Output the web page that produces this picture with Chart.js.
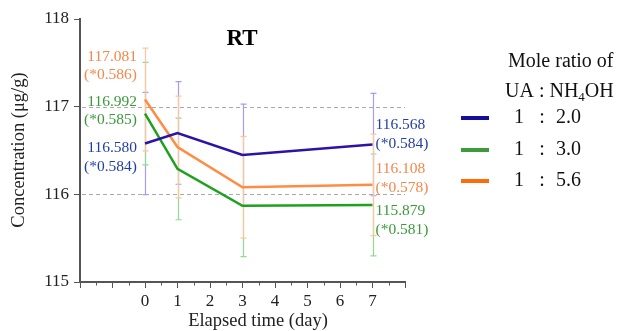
<!DOCTYPE html>
<html>
<head>
<meta charset="utf-8">
<script src="https://cdn.jsdelivr.net/npm/chart.js@4.4.1/dist/chart.umd.min.js"></script>
<style>
  html, body { margin: 0; padding: 0; background: #fff; }
  canvas { display: block; }
</style>
</head>
<body>
<canvas id="chart" width="617" height="331"></canvas>
<script>
// ---- DATA ----
const days = [0, 1, 3, 7];
const seriesNames = ["1 : 2.0", "1 : 3.0", "1 : 5.6"];
const ratio20 = [116.580, 116.70, 116.45, 116.568];
const ratio30 = [116.92, 116.29, 115.87, 115.879];
const ratio56 = [117.081, 116.54, 116.08, 116.108];
const err20 = [0.584, 0.585, 0.58, 0.584];
const err30 = [0.585, 0.58, 0.58, 0.581];
const err56 = [0.586, 0.58, 0.58, 0.578];
const startLabels = [["117.081", "(*0.586)"], ["116.992", "(*0.585)"], ["116.580", "(*0.584)"]];
const endLabels = [["116.568", "(*0.584)"], ["116.108", "(*0.578)"], ["115.879", "(*0.581)"]];
const yTicks = [115, 116, 117, 118];
const dashedAt = [116, 117];

const SERIF = "'Liberation Serif', 'Times New Roman', serif";

// ---- STYLE ----
const lineColors = ["#2c12a8", "#1ea21e", "#ff8c42"];
const errColors = ["#a99cee", "#8fdc8f", "#ffc49c"];
const legendColors = ["#140e9a", "#3c9c3c", "#ff6a0a"];
const textColors = ["#1f3fa3", "#3a9a3a", "#f4874a"];

const toPts = vals => days.map((d, i) => ({ x: d, y: vals[i] }));
const allVals = [ratio20, ratio30, ratio56];
const allErr = [err20, err30, err56];

// ---- EXTRAS PLUGIN ----
const extras = {
  id: "extras",
  beforeDatasetsDraw(chart) {
    const { ctx, scales: { x, y }, chartArea } = chart;
    ctx.save();
    // dashed reference lines
    ctx.strokeStyle = "#aaa";
    ctx.lineWidth = 1;
    ctx.setLineDash([4, 3]);
    dashedAt.forEach(v => {
      const py = Math.round(y.getPixelForValue(v)) + 0.5;
      ctx.beginPath();
      ctx.moveTo(chartArea.left + 2, py);
      ctx.lineTo(chartArea.right, py);
      ctx.stroke();
    });
    ctx.setLineDash([]);
    // error bars
    allVals.forEach((vals, si) => {
      ctx.strokeStyle = errColors[si];
      ctx.lineWidth = 1.2;
      days.forEach((d, i) => {
        const px = Math.round(x.getPixelForValue(d)) + 0.5;
        const top = y.getPixelForValue(vals[i] + allErr[si][i]);
        const bot = y.getPixelForValue(vals[i] - allErr[si][i]);
        ctx.beginPath();
        ctx.moveTo(px, top); ctx.lineTo(px, bot);
        ctx.moveTo(px - 3, top); ctx.lineTo(px + 3, top);
        ctx.moveTo(px - 3, bot); ctx.lineTo(px + 3, bot);
        ctx.stroke();
      });
    });
    ctx.restore();
  },
  afterDraw(chart) {
    const { ctx, scales: { x, y }, chartArea } = chart;
    ctx.save();
    // minor ticks on x
    ctx.strokeStyle = "#555";
    ctx.lineWidth = 1;
    for (let v = -1.5; v < 8; v += 1) {
      const px = Math.round(x.getPixelForValue(v)) + 0.5;
      ctx.beginPath();
      ctx.moveTo(px, chartArea.bottom);
      ctx.lineTo(px, chartArea.bottom + 3.5);
      ctx.stroke();
    }
    // title
    ctx.fillStyle = "#000";
    ctx.font = "bold 23px " + SERIF;
    ctx.textAlign = "center";
    ctx.textBaseline = "middle";
    ctx.fillText("RT", 242, 39);
    // axis titles
    ctx.font = "18.5px " + SERIF;
    ctx.fillStyle = "#222";
    ctx.fillText("Elapsed time (day)", 258, 321);
    ctx.save();
    ctx.translate(19, 150);
    ctx.rotate(-Math.PI / 2);
    ctx.fillText("Concentration (\u03bcg/g)", 0, 0);
    ctx.restore();
    // value labels at day 0 (right aligned)
    ctx.font = "15.5px " + SERIF;
    const x0 = x.getPixelForValue(days[0]) - 8;
    const startY = [[57, 75], [102, 120], [148, 167]];
    const startColor = [textColors[2], textColors[1], textColors[0]];
    ctx.textAlign = "right";
    startLabels.forEach((pair, k) => {
      ctx.fillStyle = startColor[k];
      ctx.fillText(pair[0], x0, startY[k][0]);
      ctx.fillText(pair[1], x0, startY[k][1]);
    });
    // value labels at day 7 (left aligned)
    const x7 = x.getPixelForValue(days[3]) + 3;
    const endY = [[125, 144], [169, 188], [211, 230]];
    const endColor = [textColors[0], textColors[2], textColors[1]];
    ctx.textAlign = "left";
    endLabels.forEach((pair, k) => {
      ctx.fillStyle = endColor[k];
      ctx.fillText(pair[0], x7, endY[k][0]);
      ctx.fillText(pair[1], x7, endY[k][1]);
    });
    // legend
    ctx.fillStyle = "#111";
    ctx.font = "20px " + SERIF;
    ctx.textAlign = "left";
    ctx.fillText("Mole ratio of", 508, 62);
    let lx = 505;
    const parts = ["UA : NH", "4", "OH"];
    ctx.fillText(parts[0], lx, 92);
    lx += ctx.measureText(parts[0]).width;
    ctx.font = "13px " + SERIF;
    ctx.fillText(parts[1], lx, 98);
    lx += ctx.measureText(parts[1]).width;
    ctx.font = "20px " + SERIF;
    ctx.fillText(parts[2], lx, 92);
    const legY = [118, 150, 181];
    seriesNames.forEach((name, i) => {
      ctx.strokeStyle = legendColors[i];
      ctx.lineWidth = 4;
      ctx.beginPath();
      ctx.moveTo(461, legY[i]);
      ctx.lineTo(489, legY[i]);
      ctx.stroke();
      const [a, b] = name.split(" : ");
      ctx.fillStyle = "#111";
      ctx.textAlign = "center";
      ctx.fillText(a, 519, legY[i]);
      ctx.fillText(":", 542, legY[i]);
      ctx.textAlign = "left";
      ctx.fillText(b, 556, legY[i]);
    });
    ctx.restore();
  }
};

// ---- CHART ----
new Chart(document.getElementById("chart"), {
  type: "line",
  data: {
    datasets: allVals.map((vals, i) => ({
      label: seriesNames[i],
      data: toPts(vals),
      borderColor: lineColors[i],
      borderWidth: 2.5,
      pointRadius: 0,
      tension: 0,
      fill: false
    }))
  },
  options: {
    responsive: false,
    devicePixelRatio: 1,
    animation: false,
    layout: { padding: { left: 0, top: 19, right: 212, bottom: 0 } },
    plugins: { legend: { display: false }, tooltip: { enabled: false } },
    scales: {
      x: {
        type: "linear",
        min: -2,
        max: 8,
        afterFit: s => { s.height = 49; },
        ticks: {
          stepSize: 1,
          autoSkip: false,
          maxRotation: 0,
          padding: 3,
          color: "#222",
          font: { family: SERIF, size: 17 },
          callback: v => (v >= 0 && v <= 7 ? String(v) : "")
        },
        grid: { drawOnChartArea: false, drawTicks: true, tickLength: 6, color: "#555", lineWidth: 1 },
        border: { color: "#555", width: 2 }
      },
      y: {
        min: 115,
        max: 118,
        afterFit: s => { s.width = 80; },
        afterBuildTicks: s => { s.ticks = yTicks.map(v => ({ value: v })); },
        ticks: {
          padding: 5,
          color: "#222",
          font: { family: SERIF, size: 17 }
        },
        grid: { drawOnChartArea: false, drawTicks: true, tickLength: 6, color: "#555", lineWidth: 1 },
        border: { color: "#555", width: 2 }
      }
    }
  },
  plugins: [extras]
});
</script>
</body>
</html>
